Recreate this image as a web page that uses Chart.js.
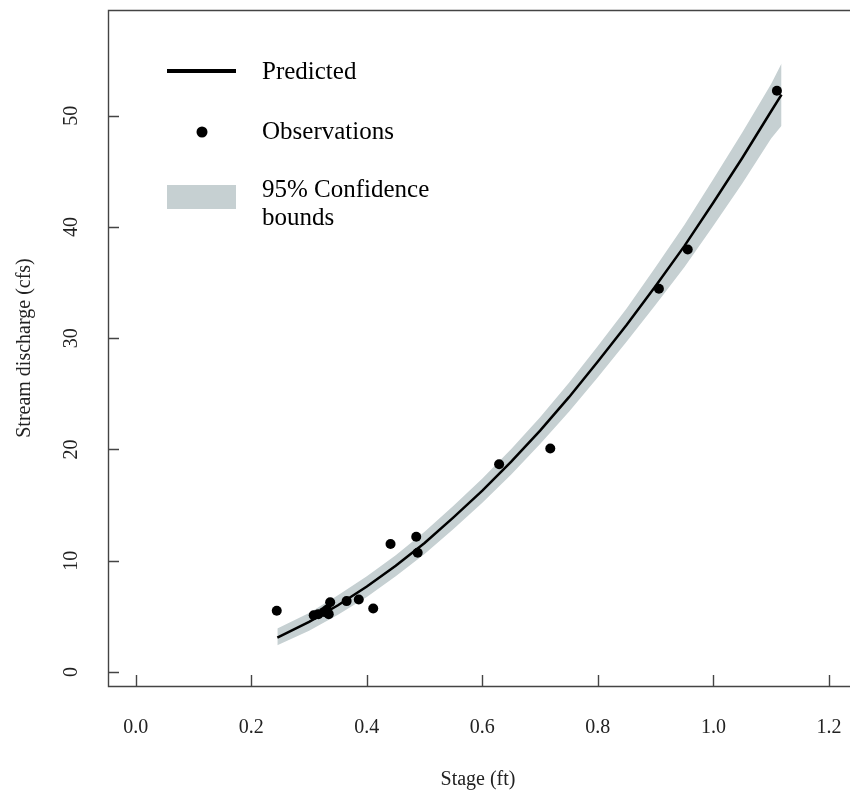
<!DOCTYPE html>
<html>
<head>
<meta charset="utf-8">
<title>Stage-discharge rating curve</title>
<script src="https://cdn.jsdelivr.net/npm/chart.js@4.4.0/dist/chart.umd.min.js"></script>
<style>
    html, body { margin: 0; padding: 0; background: #fff; overflow: hidden; }
    canvas { display: block; }
</style>
</head>
<body>
<canvas id="ratingChart" width="850" height="794"></canvas>
<script>
// fitted rating curve and its 95% band
const stage = [0.245, 0.30, 0.35, 0.40, 0.45, 0.50, 0.55, 0.60, 0.65, 0.70,
               0.75, 0.80, 0.85, 0.90, 0.95, 1.00, 1.05, 1.10, 1.118];
const predicted = [3.08, 4.50, 6.00, 7.68, 9.55, 11.6, 13.9, 16.3, 18.9, 21.7,
                   24.7, 27.9, 31.2, 34.7, 38.3, 42.2, 46.2, 50.4, 51.9];
const lowerBound = [2.40, 3.70, 5.15, 6.75, 8.60, 10.6, 12.85, 15.2, 17.75, 20.5,
                    23.4, 26.5, 29.7, 33.0, 36.4, 40.1, 43.9, 47.95, 49.1];
const upperBound = [3.90, 5.30, 6.90, 8.60, 10.5, 12.6, 14.95, 17.4, 20.05, 22.9,
                    26.0, 29.3, 32.7, 36.4, 40.2, 44.3, 48.5, 52.85, 54.7];

// field measurements
const obsStage = [0.244, 0.308, 0.316, 0.326, 0.331, 0.334, 0.3365, 0.365, 0.386, 0.411,
                  0.441, 0.4855, 0.488, 0.629, 0.7176, 0.9057, 0.9556, 1.110];
const obsDischarge = [5.5, 5.1, 5.2, 5.4, 5.6, 5.2, 6.26, 6.37, 6.52, 5.7,
                      11.5, 12.15, 10.71, 18.67, 20.08, 34.44, 37.97, 52.24];

const xTicks = [0, 0.2, 0.4, 0.6, 0.8, 1.0, 1.2];
const xTickLabels = ['0.0', '0.2', '0.4', '0.6', '0.8', '1.0', '1.2'];
const yTicks = [0, 10, 20, 30, 40, 50];
const yTickLabels = ['0', '10', '20', '30', '40', '50'];

const legendLabels = ['Predicted', 'Observations', '95% Confidence', 'bounds'];
const xTitle = 'Stage (ft)';
const yTitle = 'Stream discharge (cfs)';

const bandColor = '#c6d0d2';
const axisColor = '#444444';
const serif = '"Liberation Serif", "DejaVu Serif", serif';

function toPoints(xs, ys) {
    return xs.map((x, i) => ({ x: x, y: ys[i] }));
}

// base-graphics style frame: open-right box, inward ticks, rotated y labels
const framePlugin = {
    id: 'frame',
    afterDraw(chart) {
        const ctx = chart.ctx;
        const area = chart.chartArea;
        const xs = chart.scales.x;
        const ys = chart.scales.y;
        const edge = chart.width;

        ctx.save();
        ctx.strokeStyle = axisColor;
        ctx.lineWidth = 1.4;
        ctx.beginPath();
        ctx.moveTo(edge, area.top + 0.5);
        ctx.lineTo(area.left + 0.5, area.top + 0.5);
        ctx.lineTo(area.left + 0.5, area.bottom + 0.5);
        ctx.lineTo(edge, area.bottom + 0.5);
        ctx.stroke();

        // ticks
        ctx.beginPath();
        xTicks.forEach(v => {
            const px = Math.round(xs.getPixelForValue(v)) + 0.5;
            ctx.moveTo(px, area.bottom);
            ctx.lineTo(px, area.bottom - 11);
        });
        yTicks.forEach(v => {
            const py = Math.round(ys.getPixelForValue(v)) + 0.5;
            ctx.moveTo(area.left, py);
            ctx.lineTo(area.left + 11, py);
        });
        ctx.stroke();

        // tick labels
        ctx.fillStyle = '#222';
        ctx.font = '20px ' + serif;
        ctx.textAlign = 'center';
        ctx.textBaseline = 'middle';
        xTicks.forEach((v, i) => {
            ctx.fillText(xTickLabels[i], xs.getPixelForValue(v), 728);
        });
        yTicks.forEach((v, i) => {
            ctx.save();
            ctx.translate(72, ys.getPixelForValue(v));
            ctx.rotate(-Math.PI / 2);
            ctx.fillText(yTickLabels[i], 0, 0);
            ctx.restore();
        });

        // axis titles
        ctx.fillText(xTitle, 478, 780);
        ctx.save();
        ctx.translate(25, (area.top + area.bottom) / 2);
        ctx.rotate(-Math.PI / 2);
        ctx.fillText(yTitle, 0, 0);
        ctx.restore();

        // legend in the upper left corner
        ctx.strokeStyle = '#000';
        ctx.lineWidth = 4;
        ctx.beginPath();
        ctx.moveTo(167, 71);
        ctx.lineTo(236, 71);
        ctx.stroke();

        ctx.fillStyle = '#000';
        ctx.beginPath();
        ctx.arc(202, 132, 5.5, 0, Math.PI * 2);
        ctx.fill();

        ctx.fillStyle = bandColor;
        ctx.fillRect(167, 185, 69, 24);

        ctx.fillStyle = '#000';
        ctx.font = '25px ' + serif;
        ctx.textAlign = 'left';
        ctx.fillText(legendLabels[0], 262, 72);
        ctx.fillText(legendLabels[1], 262, 132);
        ctx.fillText(legendLabels[2], 262, 190);
        ctx.fillText(legendLabels[3], 262, 218);
        ctx.restore();
    }
};

const ctx = document.getElementById('ratingChart').getContext('2d');
const ratingChart = new Chart(ctx, {
    type: 'scatter',
    data: {
        datasets: [
            {
                label: 'upper',
                data: toPoints(stage, upperBound),
                showLine: true,
                borderWidth: 0,
                borderColor: 'rgba(0,0,0,0)',
                pointRadius: 0,
                backgroundColor: bandColor,
                fill: '+1',
                order: 3
            },
            {
                label: 'lower',
                data: toPoints(stage, lowerBound),
                showLine: true,
                borderWidth: 0,
                borderColor: 'rgba(0,0,0,0)',
                pointRadius: 0,
                fill: false,
                order: 2
            },
            {
                label: 'Predicted',
                data: toPoints(stage, predicted),
                showLine: true,
                borderColor: '#000',
                borderWidth: 2.5,
                pointRadius: 0,
                fill: false,
                order: 1
            },
            {
                label: 'Observations',
                data: toPoints(obsStage, obsDischarge),
                showLine: false,
                pointRadius: 5,
                pointBackgroundColor: '#000',
                pointBorderWidth: 0,
                order: 0
            }
        ]
    },
    options: {
        responsive: false,
        animation: false,
        devicePixelRatio: 1,
        layout: {
            padding: { left: 108, right: 0, top: 10, bottom: 108 }
        },
        scales: {
            x: { type: 'linear', min: -0.0482, max: 1.2279, display: false },
            y: { type: 'linear', min: -1.26, max: 59.5, display: false }
        },
        plugins: {
            legend: { display: false },
            tooltip: { enabled: false }
        }
    },
    plugins: [framePlugin]
});
</script>
</body>
</html>
